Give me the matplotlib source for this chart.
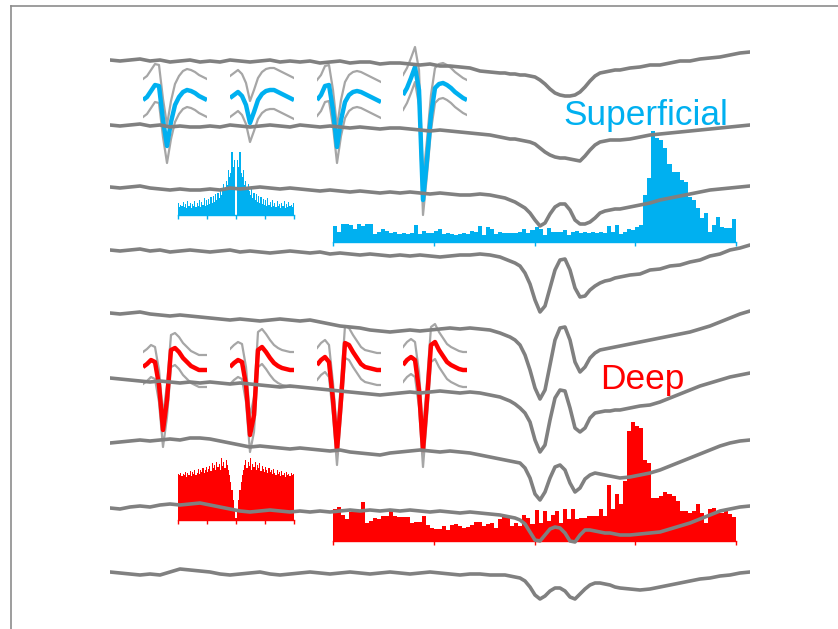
import numpy as np
import matplotlib
matplotlib.use("Agg")
import matplotlib.pyplot as plt
from matplotlib.lines import Line2D

# ---------------- data ----------------
# sample times (ms) of the LFP traces: denser sampling around the evoked response
lfp_time_ms = np.r_[np.arange(0, 195, 5.0), np.arange(195, 257.5, 2.5), np.arange(260, 325, 5.0)]

# LFP traces: deflection (up = positive) at lfp_time_ms
lfp_ch1 = [0,-1,0,1,-1,0,-2,-1,0,-2, -1,-2,0,-1,-2,-1,0,-2,-1,-2, -1,-3,-2,-1,-3,-2,-2,-4,-3,-3,
           -4,-5,-4,-6,-6,-7,-8,-11,-12,
           -13,-13,-14,-14,-15,-15,-16,-17,-20,-24,-29,-33,-35,-36,-36,-35,-32,-27,-21,-16,-13,-12,-11,-10,-10,
           -8,-7,-5,-5,-3,-1,-1,1,2,3,5,7,8]
lfp_ch2 = [0,-1,0,1,-1,0,-2,-1,-2,-2, -1,-2,0,-1,-2,-1,0,-1,-2,0, -1,-2,-1,-2,-3,-2,-3,-4,-3,-3,
           -4,-5,-6,-5,-6,-7,-8,-9,-10,
           -12,-13,-14,-14,-15,-16,-17,-19,-23,-27,-30,-32,-33,-33,-34,-35,-36,-31,-25,-20,-17,-16,-15,-15,-15,
           -14,-12,-10,-9,-8,-7,-6,-5,-4,-3,-2,-1,0]
lfp_ch3 = [0,-1,0,1,-1,-2,-3,-2,-3,-3, -2,-3,-1,-2,-1,0,-1,-2,-1,-2, -3,-4,-3,-4,-5,-4,-5,-6,-5,-6,
           -5,-6,-7,-6,-7,-8,-8,-7,-8,
           -10,-11,-13,-15,-18,-21,-26,-33,-39,-36,-27,-20,-17,-17,-23,-33,-37,-37,-35,-31,-26,-24,-23,-22,-22,
           -20,-18,-16,-13,-11,-9,-7,-5,-3,-2,-1,0,1]
lfp_ch4 = [0,-1,0,1,-1,0,-2,-1,0,-1, -2,-1,0,-2,-1,-2,-3,-2,-1,-2, -3,-2,-4,-3,-4,-5,-4,-5,-6,-5,
           -6,-5,-6,-7,-6,-5,-5,-4,-5,
           -7,-9,-11,-13,-16,-23,-34,-50,-62,-56,-38,-20,-10,-9,-20,-38,-47,-46,-40,-36,-33,-31,-30,-28,-27,
           -25,-24,-20,-19,-16,-15,-12,-10,-6,-4,0,2,5]
lfp_ch5 = [0,-1,0,1,-1,-2,-3,-2,-3,-4, -5,-6,-7,-6,-7,-8,-7,-6,-7,-8, -7,-9,-11,-13,-14,-15,-17,-18,-19,-18,
           -17,-18,-17,-16,-15,-16,-15,-16,-17,
           -20,-22,-24,-27,-32,-42,-57,-75,-86,-77,-52,-27,-15,-14,-27,-49,-59,-54,-45,-40,-37,-36,-35,-34,-33,
           -31,-29,-27,-25,-23,-21,-19,-16,-13,-9,-5,-1,2]
lfp_ch6 = [-1,-2,-3,-4,-5,-4,-5,-6,-5,-6, -5,-6,-7,-6,-7,-8,-9,-10,-9,-10, -11,-12,-13,-14,-15,-16,-17,-18,-17,-16,
           -15,-16,-15,-14,-15,-16,-15,-16,-18,
           -20,-22,-24,-27,-31,-36,-45,-63,-75,-68,-43,-21,-13,-14,-31,-51,-55,-51,-41,-36,-35,-34,-34,-33,-33,
           -31,-29,-28,-25,-21,-17,-13,-9,-6,-3,0,2,4]
lfp_ch7 = [-3,-2,-1,0,-1,0,1,0,2,2, 1,-1,-3,-5,-7,-6,-7,-8,-9,-8, -9,-10,-11,-10,-12,-13,-14,-15,-13,-12,
           -11,-10,-11,-12,-11,-12,-13,-15,-17,
           -19,-20,-21,-22,-23,-28,-38,-54,-60,-52,-38,-27,-25,-30,-43,-52,-48,-39,-35,-33,-34,-35,-36,-37,-38,
           -37,-35,-33,-30,-26,-22,-18,-14,-10,-6,-3,-1,0]
lfp_ch8 = [0,-1,1,2,1,3,4,3,4,5, 3,1,-1,-3,-4,-3,-2,-3,-4,-3, -4,-3,-4,-3,-2,-3,-2,-3,-2,-3,
           -2,-3,-4,-3,-4,-5,-4,-5,-6,
           -7,-8,-9,-10,-12,-16,-24,-32,-33,-27,-21,-19,-20,-25,-33,-34,-27,-22,-22,-23,-24,-25,-25,-26,-27,
           -27,-26,-25,-24,-21,-18,-15,-11,-7,-3,-1,1,2]
lfp_ch9 = [-1,-2,-3,-4,-3,-4,-1,2,1,0, -1,-3,-4,-3,-2,-1,-3,-4,-3,-2, -1,-2,-3,-2,-1,-2,-3,-2,-1,-2,
           -3,-2,-1,-2,-3,-4,-3,-3,-4,
           -4,-4,-5,-6,-7,-10,-16,-24,-28,-25,-20,-17,-17,-20,-26,-28,-23,-18,-14,-12,-12,-13,-14,-16,-17,
           -18,-19,-18,-16,-14,-12,-10,-8,-7,-5,-4,-2,-1]
lfp_traces = [lfp_ch1, lfp_ch2, lfp_ch3, lfp_ch4, lfp_ch5, lfp_ch6, lfp_ch7, lfp_ch8, lfp_ch9]

# Spike-triggered histograms (100 bins)
sup_hist = [16,10,18,18,17,13,18,16,18,18, 8,10,13,11,9,10,8,9,8,9, 17,8,11,9,9,11,13,8,9,8,
            7,8,9,8,11,10,16,7,15,13, 8,10,9,9,9,9,10,13,9,12,
            15,13,7,14,10,10,10,12,7,10, 11,9,10,9,10,9,10,9,16,10, 17,8,10,13,12,15,17,47,64,111,
            104,102,94,78,70,70,62,60,45,42, 34,24,29,10,17,25,15,14,14,23]
deep_hist = [32,34,26,22,29,30,30,39,18,20, 23,22,25,25,32,25,24,24,24,18, 19,19,25,16,13,12,12,15,11,16,
             17,15,13,14,16,19,19,15,17,18, 13,22,24,25,15,18,15,26,23,17,
             31,18,30,20,26,30,18,32,22,32, 22,23,23,25,25,25,32,25,56,32, 47,37,60,110,119,115,113,81,78,43,
             43,45,49,47,45,40,30,30,28,30, 37,28,18,32,33,29,28,30,27,24]

# Autocorrelograms: one half (lag bins 1..50), mirrored about zero lag
sup_acg_half = [0,55,48,63,42,38,45,30,34,27, 31,24,20,27,17,22,15,21,13,19, 12,18,11,16,10,15,9,17,10,13,
                8,15,9,12,8,14,9,11,7,12, 9,14,7,11,8,13,9,10,8,12]
deep_acg_half = [2,10,20,30,38,45,50,55,60,52, 58,54,62,50,56,53,58,50,55,52, 57,49,54,51,48,53,50,47,52,48,
                 50,46,51,47,45,50,46,48,44,49, 45,47,43,48,45,46,44,47,45,46]

# Mean spike waveforms (17 samples) with upper / lower SD offsets
sup_wf_means = [
    [0,3,9,15,14,-20,-46,-22,-5,3,8,10,9,7,4,2,0],
    [0,3,6,2,-7,-25,-14,-2,4,7,8,8,6,4,2,0,-2],
    [0,5,14,15,-10,-47,-20,-2,5,8,9,8,6,4,2,0,-2],
    [0,7,17,28,5,-105,-65,-20,7,11,12,10,7,3,0,-3,-5],
]
sup_wf_up = [21, 22, 20, 20]
sup_wf_dn = [17, 19, 16, 15]
deep_wf_means = [
    [0,3,7,5,-18,-63,-33,17,19,15,9,5,1,-1,-3,-3,-3],
    [0,4,7,5,-18,-68,-48,17,20,15,9,4,1,-1,-2,-3,-3],
    [0,5,8,3,-35,-85,-35,22,20,13,7,1,-2,-3,-4,-5,-5],
    [0,5,8,5,-25,-85,-35,20,23,15,9,3,0,-2,-4,-5,-5],
]
deep_wf_up = [15, 18, 17, 18]
deep_wf_dn = [17, 17, 15, 17]

labels = ["Superficial", "Deep"]

# ---------------- layout / style ----------------
W, H = 838, 629
BLUE = "#00B0F0"
RED = "#FF0000"
GRAY = "#808080"
LIGHT = "#A6A6A6"

fig = plt.figure(figsize=(W / 100, H / 100), dpi=100)
fig.patch.set_facecolor("white")


def px_axes(x0, x1, y_base, lo, hi, xlim, z=1):
    """axes whose y data unit equals one pixel, value 0 at pixel row y_base"""
    bottom = (H - (y_base - lo)) / H
    ax = fig.add_axes([x0 / W, bottom, (x1 - x0) / W, (hi - lo) / H])
    ax.set_xlim(*xlim)
    ax.set_ylim(lo, hi)
    ax.patch.set_alpha(0)
    ax.axis("off")
    ax.set_zorder(z)
    return ax


def hist_axes(x0, x1, y_base, hi, color, xlim, ticks):
    ax = px_axes(x0, x1, y_base, -6, hi, xlim)
    ax.axis("on")
    for s in ["top", "right", "left"]:
        ax.spines[s].set_visible(False)
    ax.spines["bottom"].set_position(("data", 0))
    ax.spines["bottom"].set_color(color)
    ax.spines["bottom"].set_linewidth(1.0)
    ax.set_yticks([])
    ax.set_xticks(ticks)
    ax.tick_params(axis="x", colors=color, length=3, width=1, direction="out",
                   labelbottom=False)
    return ax


# frame
fig.add_artist(Line2D([11 / W, 11 / W], [0, 1 - 6 / H], color="#8c8c8c", lw=1.2))
fig.add_artist(Line2D([11 / W, 1], [1 - 6 / H, 1 - 6 / H], color="#8c8c8c", lw=1.2))

# spike-triggered histograms
edges = np.arange(len(sup_hist) + 1)
ax = hist_axes(333, 736, 242, 125, BLUE, (0, 100), [0, 25, 50, 75, 100])
ax.stairs(sup_hist, edges, fill=True, color=BLUE, lw=0)
ax = hist_axes(333, 736, 541, 125, RED, (0, 100), [0, 25, 50, 75, 100])
ax.stairs(deep_hist, edges, fill=True, color=RED, lw=0)

# autocorrelograms
acg_edges = np.arange(-50, 51)
ax = hist_axes(178, 294, 215, 70, BLUE, (-50, 50), [-50, -25, 0, 25, 50])
ax.stairs(sup_acg_half[::-1] + sup_acg_half, acg_edges, fill=True, color=BLUE, lw=0)
ax = hist_axes(178, 294, 520, 70, RED, (-50, 50), [-50, -25, 0, 25, 50])
ax.stairs(deep_acg_half[::-1] + deep_acg_half, acg_edges, fill=True, color=RED, lw=0)

# waveforms
wf_t = np.arange(17)
sup_wf_pos = [(143, 100), (230, 98), (317, 100), (403, 95)]
deep_wf_pos = [(143, 367), (230, 367), (317, 365), (403, 365)]
for pos, means, ups, dns, col in [(sup_wf_pos, sup_wf_means, sup_wf_up, sup_wf_dn, BLUE),
                                   (deep_wf_pos, deep_wf_means, deep_wf_up, deep_wf_dn, RED)]:
    for (x0, y0), m, u, d in zip(pos, means, ups, dns):
        a = px_axes(x0, x0 + 64, y0, -140, 60, (0, 16), z=2)
        m = np.array(m, dtype=float)
        a.plot(wf_t, m + u, color=LIGHT, lw=1.6, solid_joinstyle="round")
        a.plot(wf_t, m - d, color=LIGHT, lw=1.6, solid_joinstyle="round")
        a.plot(wf_t, m, color=col, lw=3.2, solid_joinstyle="round", solid_capstyle="butt")

# LFP traces (on top)
ch_rows = [60, 125, 187, 250, 313, 377, 440, 508, 571]
axm = px_axes(110, 750, 0, -H, 0, (lfp_time_ms[0], lfp_time_ms[-1]), z=5)
for row, tr in zip(ch_rows, lfp_traces):
    axm.plot(lfp_time_ms, -row + np.array(tr, dtype=float), color=GRAY, lw=2.6,
             solid_joinstyle="round", solid_capstyle="round")

# labels
fig.text(563 / W, 1 - 125 / H, labels[0], color=BLUE, fontsize=25.4,
         family=["Liberation Sans", "DejaVu Sans"], va="baseline", ha="left", zorder=6)
fig.text(600 / W, 1 - 389 / H, labels[1], color=RED, fontsize=25.4,
         family=["Liberation Sans", "DejaVu Sans"], va="baseline", ha="left", zorder=6)

fig.savefig("out.png", dpi=100, facecolor="white")
